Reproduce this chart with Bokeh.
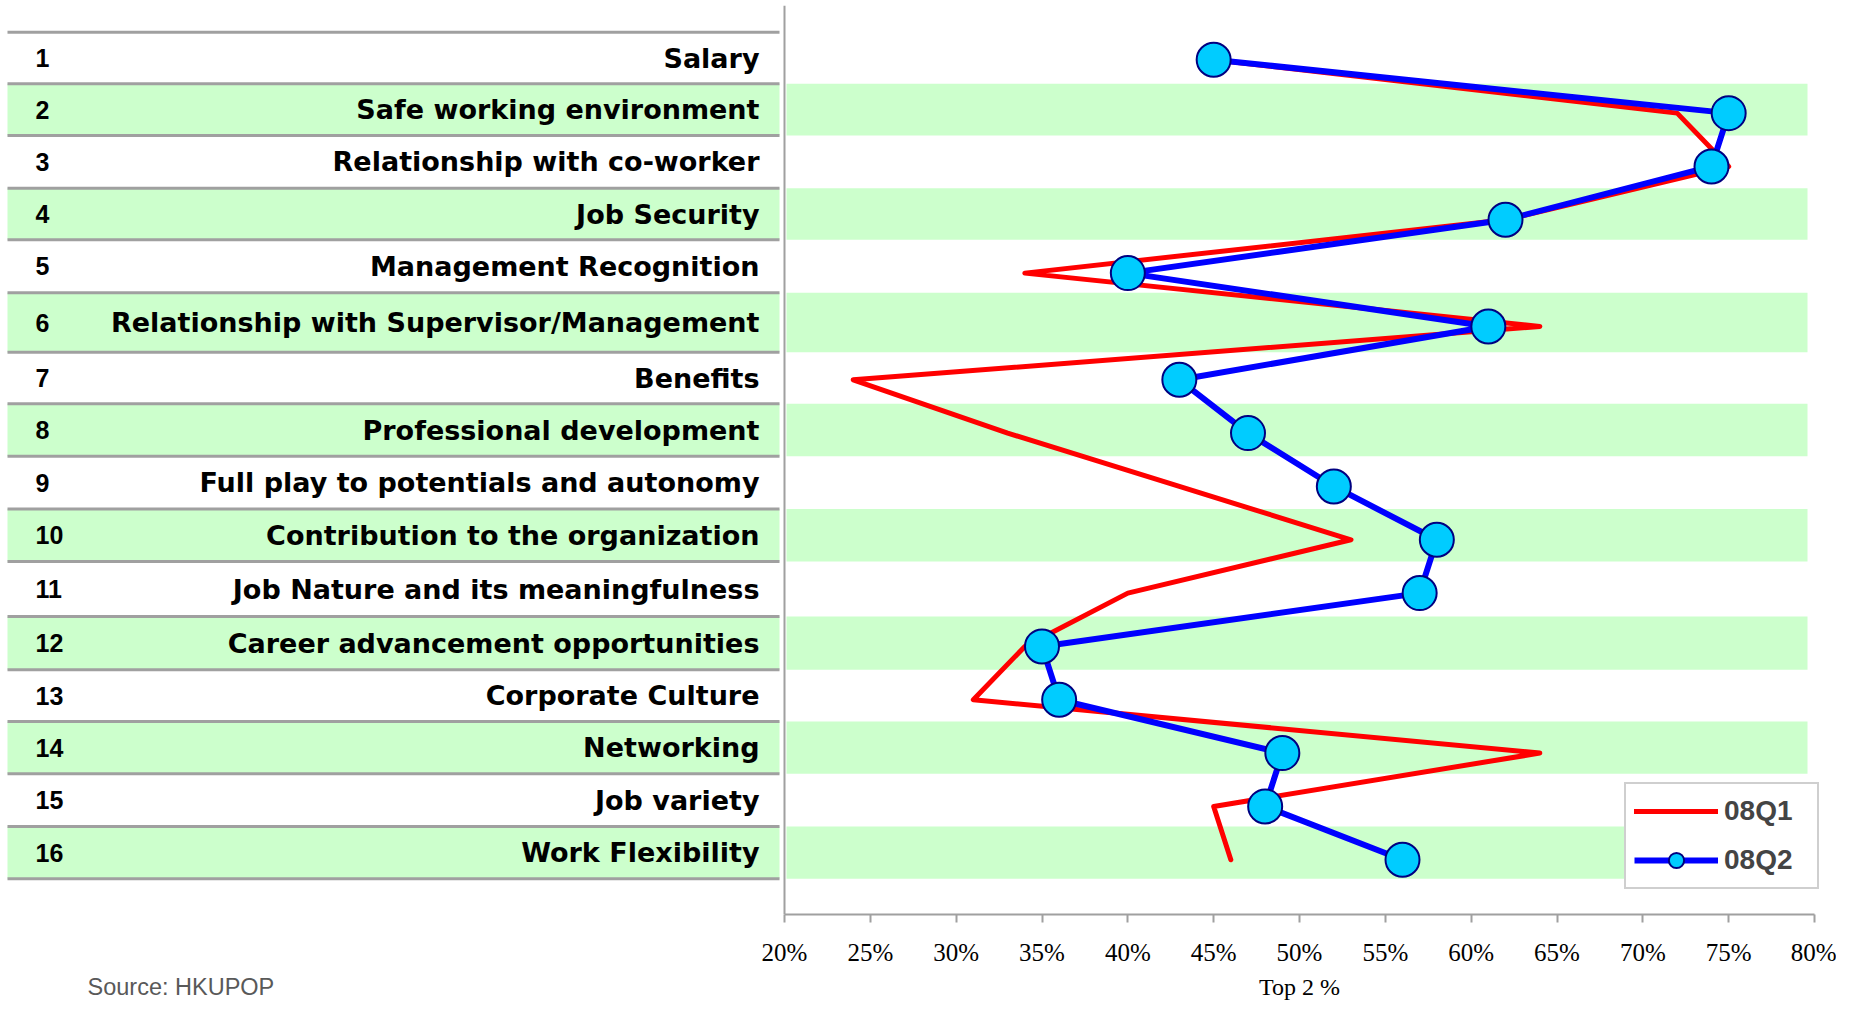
from bokeh.plotting import figure
from bokeh.layouts import column
from bokeh.models import (Range1d, FixedTicker, PrintfTickFormatter, Span, Legend,
                          LegendItem)
from bokeh.core.properties import value
from bokeh.embed import file_html
from bokeh.resources import INLINE

# ---------------- data ----------------
ranks = list(range(1, 17))
categories = [
    "Salary",
    "Safe working environment",
    "Relationship with co-worker",
    "Job Security",
    "Management Recognition",
    "Relationship with Supervisor/Management",
    "Benefits",
    "Professional development",
    "Full play to potentials and autonomy",
    "Contribution to the organization",
    "Job Nature and its meaningfulness",
    "Career advancement opportunities",
    "Corporate Culture",
    "Networking",
    "Job variety",
    "Work Flexibility",
]
q1_2008 = [45, 72, 75, 62, 34, 64, 24, 33, 43, 53, 40, 34, 31, 64, 45, 46]
q2_2008 = [45, 75, 74, 62, 40, 61, 43, 47, 52, 58, 57, 35, 36, 49, 48, 56]
series_names = ["08Q1", "08Q2"]
x_ticks = [20, 25, 30, 35, 40, 45, 50, 55, 60, 65, 70, 75, 80]
x_title = "Top 2 %"
source_note = "Source: HKUPOP"

# ---------------- layout (pixels, canvas coordinates) ----------------
W = 1836
H_MAIN = 970
H_FOOT = 30
FRAME_TOP = 5
AXIS_Y = 914
PX_PER_PCT = 1030 / 60.0
X20 = 784
x_lo = 20 - X20 / PX_PER_PCT
x_hi = x_lo + W / PX_PER_PCT
ROW1_Y, ROW_STEP = 59.3, 53.33
y_top = 1 + (FRAME_TOP - ROW1_Y) / ROW_STEP
y_bot = 1 + (AXIS_Y - ROW1_Y) / ROW_STEP

row_edges = [31.7, 83.3, 135, 187.7, 239.3, 292.3, 351.7, 403.3, 455.7,
             508.5, 561, 616, 669.3, 721, 773.3, 826, 878.3]
TABLE_L, TABLE_R = 7, 779
BAND_L, BAND_R = 786, 1807

p = figure(width=W, height=H_MAIN, x_range=Range1d(x_lo, x_hi),
           y_range=Range1d(y_bot, y_top), output_backend="svg",
           toolbar_location=None, y_axis_location=None,
           min_border_left=0, min_border_right=0, min_border_top=FRAME_TOP,
           min_border_bottom=H_MAIN - AXIS_Y, outline_line_color=None,
           background_fill_color="white", border_fill_color="white")
p.extra_x_ranges = {"tbl": Range1d(0, W)}
p.extra_y_ranges = {"tbl": Range1d(AXIS_Y, FRAME_TOP)}
p.xgrid.visible = False
p.ygrid.visible = False

# ---------------- table ----------------
even = [r for r in ranks if r % 2 == 0]
tops = [row_edges[r - 1] for r in even]
bottoms = [row_edges[r] for r in even]
p.quad(left=TABLE_L, right=TABLE_R, top=tops, bottom=bottoms,
       fill_color="#CCFFCC", line_color=None, x_range_name="tbl", y_range_name="tbl")
p.quad(left=BAND_L, right=BAND_R, top=tops, bottom=bottoms,
       fill_color="#CCFFCC", line_color=None, x_range_name="tbl", y_range_name="tbl")
p.segment(x0=TABLE_L, x1=TABLE_R, y0=row_edges, y1=row_edges,
          line_color="#A0A0A0", line_width=3, x_range_name="tbl", y_range_name="tbl")

centers = [(row_edges[r - 1] + row_edges[r]) / 2 for r in ranks]
p.text(x=35, y=centers, text=[str(r) for r in ranks],
       text_font=value("Liberation Sans"), text_font_style="bold",
       text_font_size="25px", text_align="left", text_baseline="middle",
       text_color="black", x_range_name="tbl", y_range_name="tbl")
p.text(x=759, y=centers, text=categories,
       text_font=value("DejaVu Sans"), text_font_style="bold",
       text_font_size="27px", text_align="right", text_baseline="middle",
       text_color="black", x_range_name="tbl", y_range_name="tbl")

# vertical axis line at 20%
p.add_layout(Span(location=20, dimension="height", line_color="#A0A0A0", line_width=2))

# ---------------- series ----------------
r1 = p.line(q1_2008, ranks, line_color="#FF0000", line_width=5,
            line_join="round", line_cap="round")
r2 = p.line(q2_2008, ranks, line_color="#0000FF", line_width=6, line_join="round")
r3 = p.scatter(q2_2008, ranks, marker="circle", size=34, fill_color="#00CCFF",
               line_color="#000080", line_width=2)

legend = Legend(items=[LegendItem(label=series_names[0], renderers=[r1]),
                       LegendItem(label=series_names[1], renderers=[r2, r3])],
                location=(1624, 25), padding=8, spacing=11, margin=0,
                glyph_width=84, glyph_height=38, label_standoff=6, label_width=85,
                label_text_font="Liberation Sans", label_text_font_style="bold",
                label_text_font_size="28px", border_line_color="#A0A0A0",
                border_line_width=2, background_fill_color="white",
                background_fill_alpha=1.0)
p.add_layout(legend)

# ---------------- x axis ----------------
ax = p.xaxis[0]
ax.ticker = FixedTicker(ticks=x_ticks)
ax.formatter = PrintfTickFormatter(format="%d%%")
ax.bounds = (20, 80)
ax.axis_line_color = "#A0A0A0"
ax.axis_line_width = 2
ax.major_tick_line_color = "#A0A0A0"
ax.major_tick_line_width = 2
ax.major_tick_in = 0
ax.major_tick_out = 8
ax.minor_tick_line_color = None
ax.major_label_text_font = "Liberation Sans Narrow"
ax.major_label_text_font_size = "25px"
ax.major_label_text_color = "black"
ax.major_label_standoff = 16

# ---------------- footer: axis title + source ----------------
foot = figure(width=W, height=H_FOOT, x_range=p.x_range, y_range=Range1d(H_FOOT, 0),
              output_backend="svg", toolbar_location=None,
              x_axis_location=None, y_axis_location=None,
              min_border=0, outline_line_color=None,
              background_fill_color="white", border_fill_color="white")
foot.extra_x_ranges = {"tbl": Range1d(0, W)}
foot.xgrid.visible = False
foot.ygrid.visible = False
foot.text(x=[(x_ticks[0] + x_ticks[-1]) / 2], y=[3], text=[x_title],
          text_align="center", text_baseline="top",
          text_font=value("Liberation Serif"), text_font_size="24px",
          text_color="black")
foot.text(x=[87], y=[3], text=[source_note], x_range_name="tbl",
          text_align="left", text_baseline="top",
          text_font=value("Liberation Sans"), text_font_size="23.5px",
          text_color="#595959")

layout = column(p, foot, spacing=0)
open("out.html", "w").write(file_html(layout, INLINE))
